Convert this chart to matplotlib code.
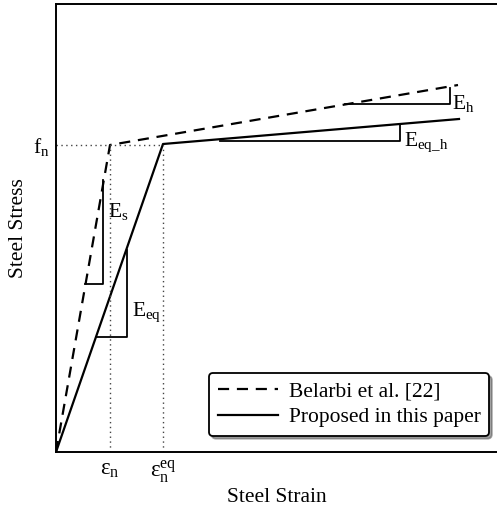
import matplotlib.pyplot as plt

plt.rcParams['font.family'] = ['Liberation Serif', 'DejaVu Serif']
plt.rcParams['mathtext.fontset'] = 'custom'
plt.rcParams['mathtext.rm'] = 'Liberation Serif'
plt.rcParams['mathtext.it'] = 'Liberation Serif'

# schematic curves (arbitrary units, origin at 0,0)
belarbi_strain = [0, 54, 402]
belarbi_stress = [0, 307, 367]
proposed_strain = [0, 107, 403]
proposed_stress = [0, 308, 333]

f_n = 307
eps_n = 54
eps_n_eq = 107

# slope triangles: (x_start, x_corner, y_low, y_high)
tri_es = (29, 47, 168, 272)
tri_eq = (40, 71, 115, 202)
tri_h = (289, 394, 348, 364)
tri_eqh = (164, 344, 311, 328)

fig = plt.figure(figsize=(4.97, 5.09), dpi=100)
ax = fig.add_axes([56/497, 57/509, 441/497, 448/509])
ax.set_xlim(0, 441)
ax.set_ylim(0, 448)

ax.plot(belarbi_strain, belarbi_stress, color='black', lw=1.6, ls=(0, (5, 3.5)),
        label='Belarbi et al. [22]')
ax.plot(proposed_strain, proposed_stress, color='black', lw=1.6,
        label='Proposed in this paper')

# guide lines
ax.plot([0, eps_n_eq], [f_n, f_n], color='#444444', lw=1, ls=(0, (1, 2.5)))
ax.plot([eps_n, eps_n], [0, f_n], color='#444444', lw=1, ls=(0, (1, 2.5)))
ax.plot([eps_n_eq, eps_n_eq], [0, f_n], color='#444444', lw=1, ls=(0, (1, 2.5)))

for x0, x1, y0, y1 in [tri_es, tri_eq, tri_h, tri_eqh]:
    ax.plot([x0, x1, x1], [y0, y0, y1], color='black', lw=1.3)

fs = 15.5
ax.text(-6, f_n - 2, r'f$_\mathregular{n}$', ha='right', va='center', fontsize=fs)
ax.text(52, 240, r'E$_\mathregular{s}$', ha='left', va='center', fontsize=fs)
ax.text(76, 140, r'E$_\mathregular{eq}$', ha='left', va='center', fontsize=fs)
ax.text(396, 349, r'E$_\mathregular{h}$', ha='left', va='center', fontsize=fs)
ax.text(348, 310, r'E$_\mathregular{eq\_h}$', ha='left', va='center', fontsize=fs)

ax.set_xticks([eps_n, eps_n_eq])
ax.set_xticklabels([r'$\mathregular{\varepsilon_n}$', r'$\mathregular{\varepsilon_n^{eq}}$'],
                   fontsize=fs + 1)
ax.set_yticks([])
ax.tick_params(axis='x', length=0, pad=5)
ax.spines['right'].set_visible(False)
for s in ['left', 'bottom', 'top']:
    ax.spines[s].set_linewidth(1.4)

ax.set_xlabel('Steel Strain', fontsize=fs, labelpad=2)
ax.set_ylabel('Steel Stress', fontsize=fs, labelpad=20)

leg = ax.legend(loc='lower right', bbox_to_anchor=(0.982, 0.036), fontsize=fs,
                handlelength=2.8, frameon=True, fancybox=True, shadow=True,
                edgecolor='black', framealpha=1, borderpad=0.4, labelspacing=0.25,
                handletextpad=0.5, borderaxespad=0)
leg.get_frame().set_linewidth(1.3)

fig.savefig('out.png', dpi=100)
